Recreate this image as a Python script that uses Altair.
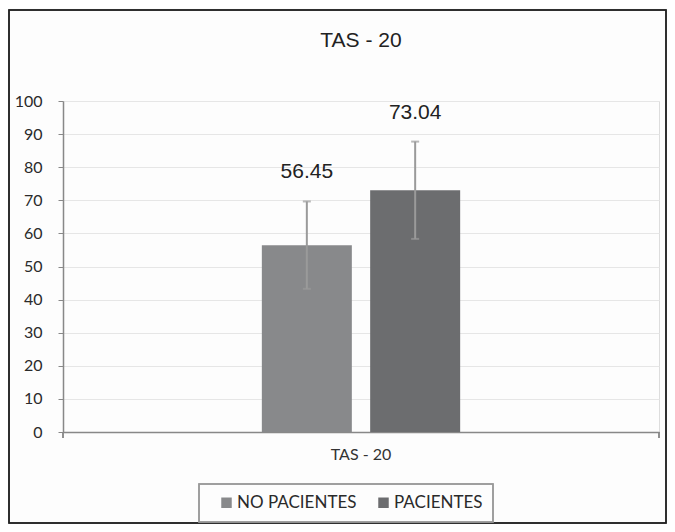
import altair as alt
import pandas as pd

category = "TAS - 20"
groups = ["NO PACIENTES", "PACIENTES"]
means = [56.45, 73.04]
errors = [13.2, 14.7]
labels = ["56.45", "73.04"]
colors = ["#88898b", "#6c6d6f"]

df = pd.DataFrame({
    "cat": [category] * 2,
    "group": groups,
    "mean": means,
    "lo": [m - e for m, e in zip(means, errors)],
    "hi": [m + e for m, e in zip(means, errors)],
    "label": labels,
})
title_df = pd.DataFrame({"t": [category]})

W, H = 596, 331
LEFT, TOP, RIGHT, BOTTOM = 55, 93, 8, 92

x_axis = alt.Axis(labelAngle=0, ticks=False, labelPadding=14, domainColor="#888888",
                  domainWidth=1.5, labelFont="Lato", labelFontSize=16, labelColor="#333333")
x_scale = alt.Scale(paddingInner=0, paddingOuter=1.0)
xo_scale = alt.Scale(paddingInner=0.166, paddingOuter=0)
y_axis = alt.Axis(values=list(range(0, 101, 10)), labelOverlap=False, tickSize=5,
                  tickColor="#888888", domainColor="#888888", domainWidth=1.5,
                  labelPadding=16, labelFont="Lato", labelFontSize=16,
                  labelColor="#2a2a2a", gridColor="#e6e6e6", gridWidth=1)
y_scale = alt.Scale(domain=[0, 100], nice=False)


def X():
    return alt.X("cat:N", title=None, scale=x_scale, axis=x_axis)


def XO():
    return alt.XOffset("group:N", sort=groups, scale=xo_scale)


def Y(field):
    return alt.Y(field, title=None, scale=y_scale, axis=y_axis)


color = alt.Color("group:N", sort=groups,
                  scale=alt.Scale(domain=groups, range=colors),
                  legend=alt.Legend(title=None, orient="none", direction="horizontal",
                                    legendX=155, legendY=393, symbolType="square", symbolSize=110,
                                    symbolStrokeWidth=0, labelFont="Lato", labelFontSize=17,
                                    labelColor="#2a2a2a", columnPadding=18, padding=0,
                                    labelOffset=2, labelLimit=300))

base = alt.Chart(df)

bars = base.mark_bar(size=90).encode(x=X(), xOffset=XO(), y=Y("mean:Q"), color=color)

err = base.mark_rule(color="#9a9a9a", strokeWidth=2).encode(
    x=X(), xOffset=XO(), y=Y("lo:Q"), y2="hi:Q")
cap_hi = base.mark_tick(color="#9a9a9a", thickness=2, size=8).encode(
    x=X(), xOffset=XO(), y=Y("hi:Q"))
cap_lo = base.mark_tick(color="#9a9a9a", thickness=2, size=8).encode(
    x=X(), xOffset=XO(), y=Y("lo:Q"))

txt = base.mark_text(font="Liberation Sans", fontSize=21, color="#222222", dy=-29,
                     baseline="middle").encode(
    x=X(), xOffset=XO(), y=Y("hi:Q"), text="label:N")

end_tick = base.mark_rule(color="#888888", strokeWidth=1.5).encode(
    x=alt.value(W), x2=alt.value(W), y=alt.value(H), y2=alt.value(H + 6))
left_tick = base.mark_rule(color="#888888", strokeWidth=1.5).encode(
    x=alt.value(0), x2=alt.value(0), y=alt.value(H), y2=alt.value(H + 6))

frame = base.mark_rect(filled=False, stroke="#222222", strokeWidth=1.5).encode(
    x=alt.value(-LEFT + 1), x2=alt.value(W + RIGHT - 1),
    y=alt.value(-TOP + 2), y2=alt.value(H + BOTTOM - 1))

legend_box = base.mark_rect(filled=False, stroke="#999999", strokeWidth=1.5).encode(
    x=alt.value(136), x2=alt.value(430), y=alt.value(383), y2=alt.value(421))

title = alt.Chart(title_df).mark_text(font="Liberation Sans", fontSize=21, color="#222222",
                                       baseline="middle").encode(
    x=alt.value(W / 2), y=alt.value(-60), text="t:N")

chart = alt.layer(frame, legend_box, bars, err, cap_hi, cap_lo, txt, end_tick, left_tick,
                  title).properties(
    width=W, height=H,
    padding={"left": LEFT, "top": TOP, "right": RIGHT, "bottom": BOTTOM},
    autosize=alt.AutoSizeParams(type="none"),
).configure_view(stroke=None).configure(background="#fdfdfd")

chart.save("out.html", embed_options={"renderer": "svg", "actions": False})
